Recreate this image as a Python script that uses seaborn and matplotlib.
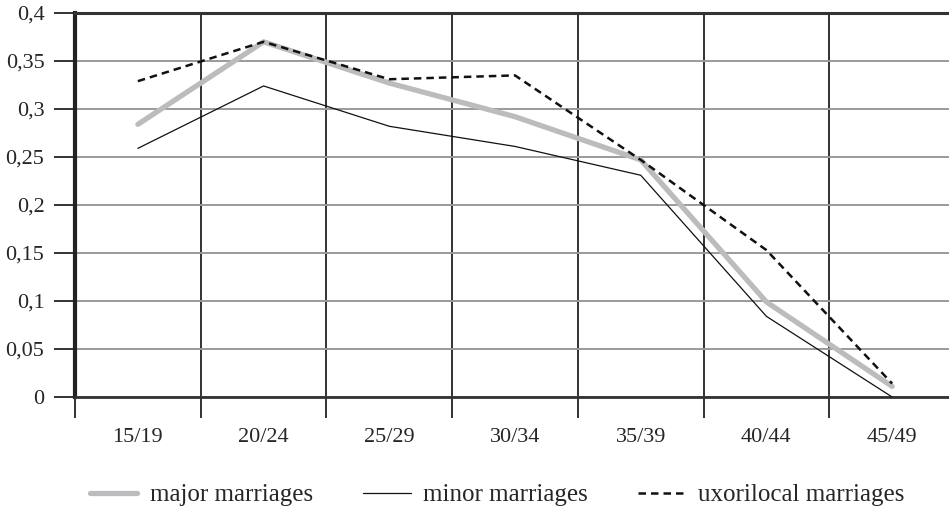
import pandas as pd
import numpy as np
import matplotlib
matplotlib.use('Agg')
import matplotlib.pyplot as plt
import seaborn as sns

# Datos
grupos_edad = ['15/19', '20/24', '25/29', '30/34', '35/39', '40/44', '45/49']
major = [0.284, 0.370, 0.327, 0.292, 0.247, 0.099, 0.011]
minor = [0.259, 0.324, 0.282, 0.261, 0.231, 0.084, 0.0]
uxorilocal = [0.329, 0.370, 0.331, 0.335, 0.247, 0.153, 0.014]
etiquetas_y = ['0', '0,05', '0,1', '0,15', '0,2', '0,25', '0,3', '0,35', '0,4']

sns.set_style('white')
plt.rcParams['font.family'] = ['Liberation Serif', 'DejaVu Serif']

fig = plt.figure(figsize=(9.49, 5.23), dpi=100)
ax = fig.add_axes([75 / 949, 1 - 397 / 523, 880 / 949, 384 / 523])

df = pd.DataFrame({'edad': grupos_edad, 'major': major, 'minor': minor, 'uxo': uxorilocal})
df['pos'] = np.arange(len(grupos_edad))

sns.lineplot(data=df, x='pos', y='major', ax=ax, color='#bcbcbe', linewidth=3.8,
             label='major marriages', zorder=3)
sns.lineplot(data=df, x='pos', y='minor', ax=ax, color='#111111', linewidth=0.9,
             label='minor marriages', zorder=4)
sns.lineplot(data=df, x='pos', y='uxo', ax=ax, color='#111111', linewidth=1.8,
             linestyle=(0, (3, 2)), label='uxorilocal marriages', zorder=5)

ax.set_xlim(-0.5, len(grupos_edad) - 0.5)
ax.set_ylim(0, 0.4)

# etiquetas en el centro, marcas y rejilla en los limites
ax.set_xticks(df['pos'])
ax.set_xticklabels(grupos_edad)
ax.set_xticks(np.arange(-0.5, len(grupos_edad)), minor=True)
ax.tick_params(axis='x', which='major', length=0, pad=22, labelsize=16)
ax.tick_params(axis='x', which='minor', length=15, width=1.3, color='#222222', bottom=True)
ax.set_yticks(np.arange(0, 0.41, 0.05))
ax.set_yticklabels(etiquetas_y)
ax.tick_params(axis='y', length=15, width=1.3, color='#222222', pad=7, labelsize=16, left=True)

ax.grid(False)
ax.yaxis.grid(True, color='#9a9a9a', linewidth=1.4)
ax.xaxis.grid(True, which='minor', color='#222222', linewidth=1.3)
ax.set_axisbelow(True)

ax.spines['left'].set_linewidth(3)
ax.spines['left'].set_color('#222222')
ax.spines['bottom'].set_linewidth(2)
ax.spines['bottom'].set_color('#333333')
ax.spines['top'].set_linewidth(2.2)
ax.spines['top'].set_color('#333333')
ax.spines['right'].set_visible(False)

ax.set_xlabel('')
ax.set_ylabel('')

ax.legend(loc='center', bbox_to_anchor=(497 / 949, 1 - 495 / 523), bbox_transform=fig.transFigure,
          ncol=3, frameon=False, fontsize=18, handlelength=1.9, handletextpad=0.5,
          columnspacing=2.0)

plt.savefig('out.png', dpi=100)
